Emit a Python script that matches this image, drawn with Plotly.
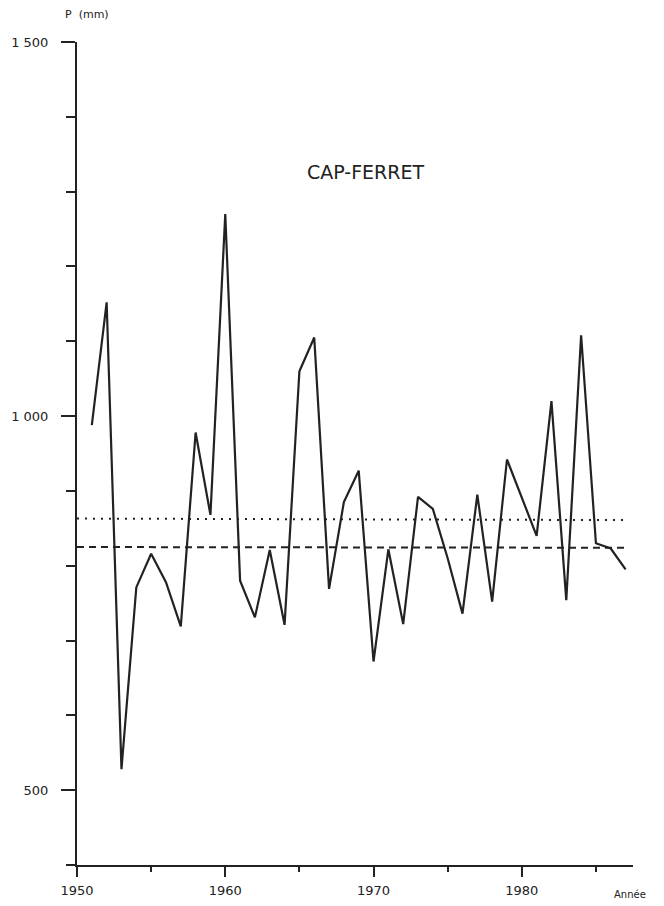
import plotly.graph_objects as go

# Annual precipitation at Cap-Ferret (mm)
years = list(range(1951, 1988))
precip = [988, 1152, 528, 771, 816, 778, 719, 978, 868, 1270,
          780, 731, 821, 721, 1060, 1105, 769, 885, 927, 672,
          822, 722, 892, 876, 810, 736, 895, 752, 942, 890,
          840, 1020, 754, 1108, 830, 823, 795]

# Reference lines (start / end)
ref_years = [1950, 1987]
mean_line = [863, 861]     # dotted
median_line = [825, 824]   # dashed

y_tickvals = [500, 1000, 1500]
y_ticktext = ["500", "1 000", "1 500"]
x_tickvals = [1950, 1960, 1970, 1980]
x_ticktext = ["1950", "1960", "1970", "1980"]

ink = "#222222"
font_family = "DejaVu Sans, Liberation Sans, sans-serif"

fig = go.Figure()
fig.add_trace(go.Scatter(x=ref_years, y=mean_line, mode="lines",
                         line=dict(color=ink, width=2, dash="2px,6px"),
                         showlegend=False, hoverinfo="skip"))
fig.add_trace(go.Scatter(x=ref_years, y=median_line, mode="lines",
                         line=dict(color=ink, width=2, dash="7px,5px"),
                         showlegend=False, hoverinfo="skip"))
fig.add_trace(go.Scatter(x=years, y=precip, mode="lines",
                         line=dict(color=ink, width=2.2),
                         showlegend=False))

fig.update_layout(
    width=664, height=906,
    margin=dict(l=77, r=31, t=42, b=41, autoexpand=False),
    paper_bgcolor="white", plot_bgcolor="white",
    font=dict(family=font_family, color=ink, size=12),
    xaxis=dict(range=[1950, 1987.5], showgrid=False, zeroline=False,
               automargin=False,
               showline=True, linecolor=ink, linewidth=2,
               ticks="outside", ticklen=10, tickwidth=2, tickcolor=ink,
               tickmode="array", tickvals=x_tickvals, ticktext=x_ticktext,
               tickfont=dict(size=13), ticklabelstandoff=2,
               minor=dict(tickmode="linear", tick0=1955, dtick=10,
                          ticks="outside", ticklen=5, tickwidth=2, tickcolor=ink)),
    yaxis=dict(range=[400, 1500], showgrid=False, zeroline=False,
               automargin=False,
               showline=True, linecolor=ink, linewidth=2,
               ticks="outside", ticklen=14, tickwidth=2, tickcolor=ink,
               tickmode="array", tickvals=y_tickvals, ticktext=y_ticktext,
               tickfont=dict(size=13), ticklabelstandoff=10,
               minor=dict(tickmode="linear", tick0=400, dtick=100,
                          ticks="outside", ticklen=9, tickwidth=2, tickcolor=ink)),
    annotations=[
        dict(text="CAP-FERRET", xref="paper", yref="paper",
             x=(366 - 77) / 556, y=(906 - 41 - 172) / 823,
             xanchor="center", yanchor="middle", showarrow=False,
             font=dict(size=19, color=ink)),
        dict(text="P  (mm)", xref="paper", yref="paper",
             x=(63 - 77) / 556, y=(906 - 41 - 15) / 823,
             xanchor="left", yanchor="middle", showarrow=False,
             font=dict(size=11, color=ink)),
        dict(text="Année", xref="paper", yref="paper",
             x=(612 - 77) / 556, y=(906 - 41 - 895) / 823,
             xanchor="left", yanchor="middle", showarrow=False,
             font=dict(size=10, color=ink)),
    ],
)

fig.write_html("out.html", config={"displayModeBar": False},
               post_script="document.body.style.margin='0';document.body.style.overflow='hidden';")
